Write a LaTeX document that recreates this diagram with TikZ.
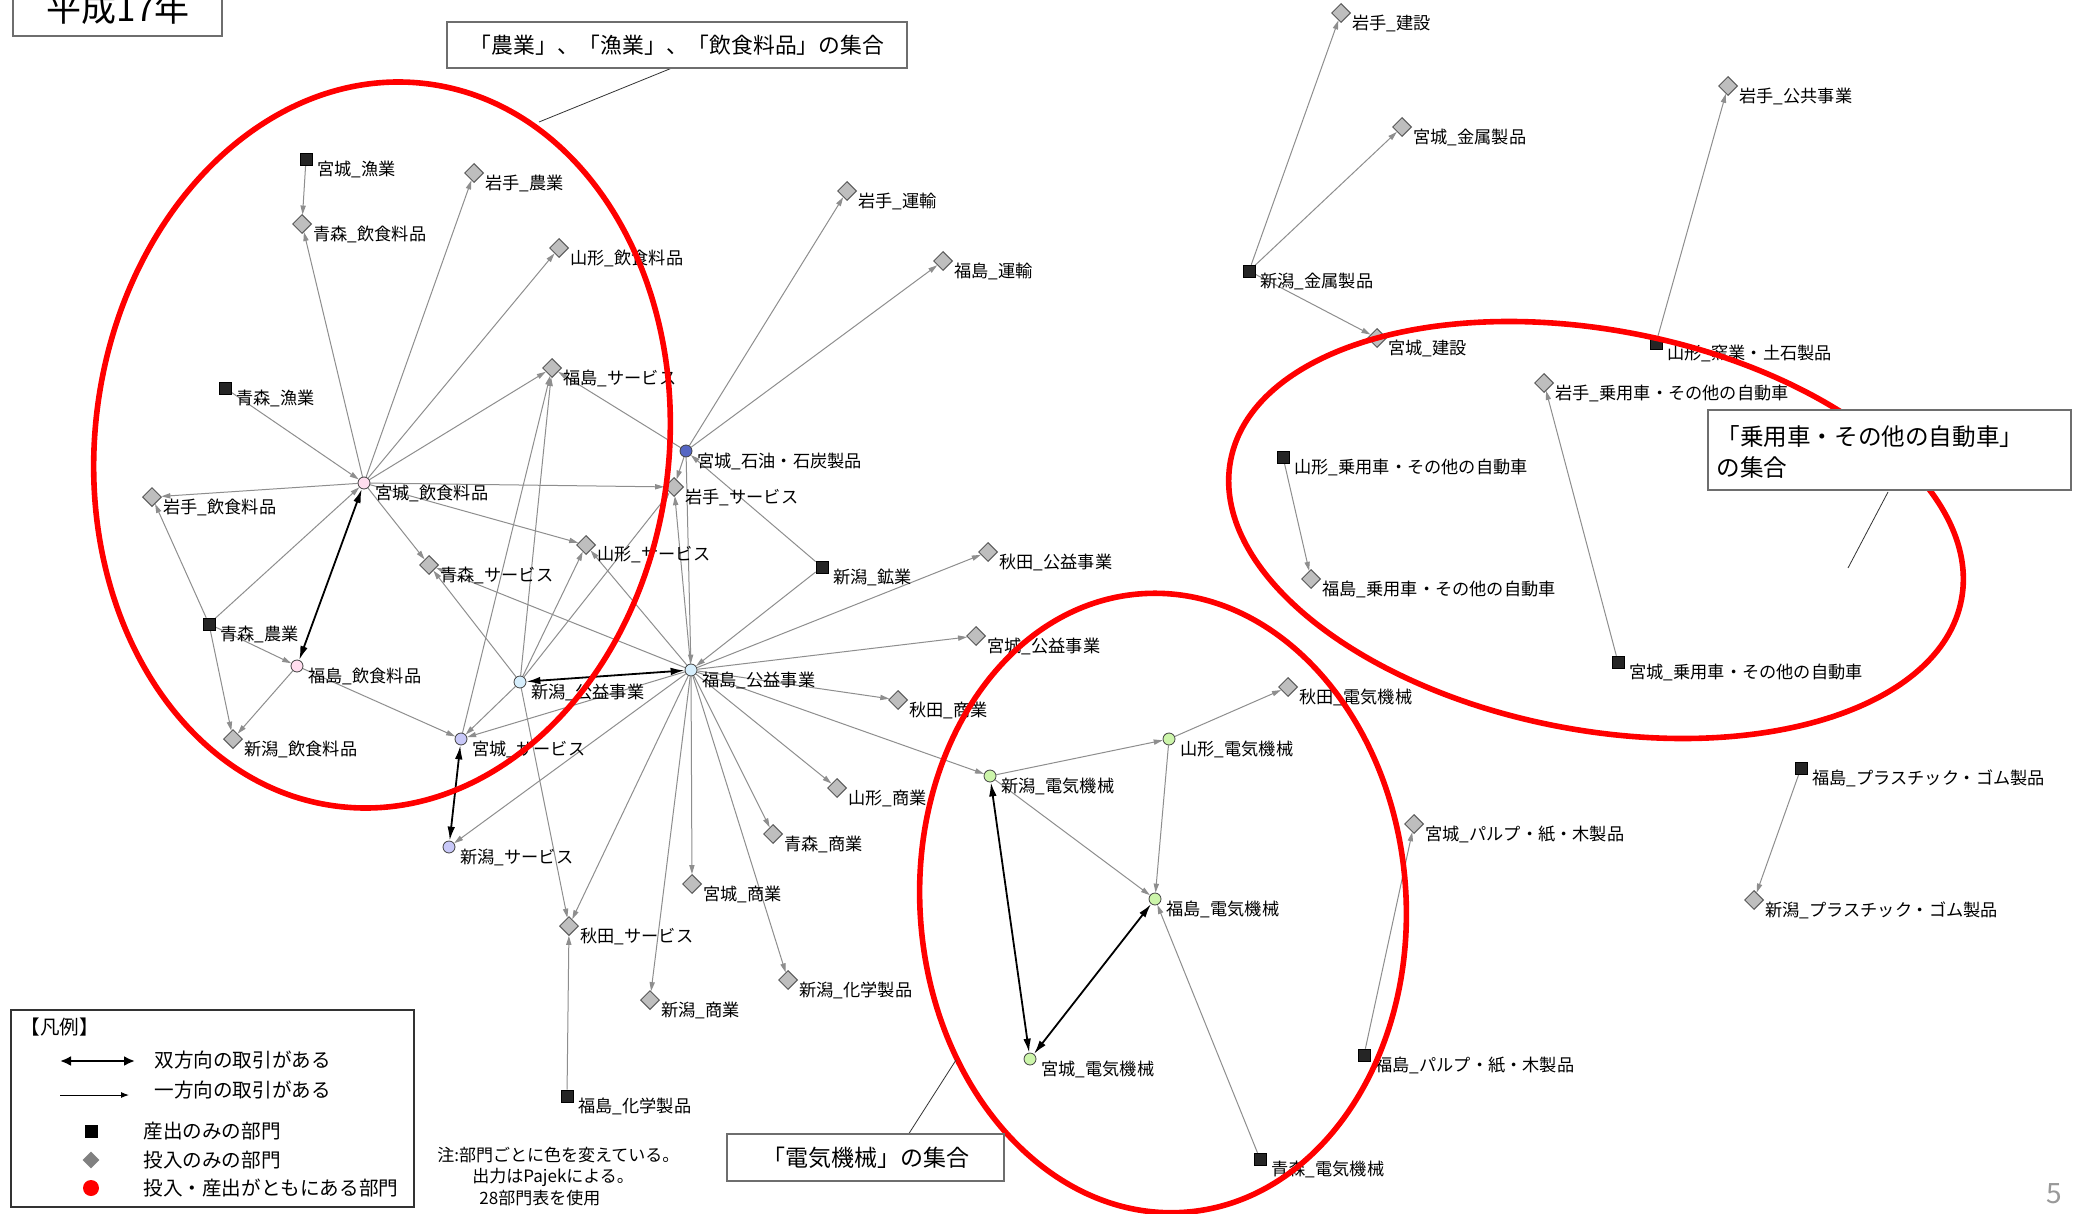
\documentclass[tikz,border=0pt]{standalone}
\usepackage{fontspec}
\setmainfont{Noto Sans CJK JP}
\usetikzlibrary{arrows.meta,shapes.geometric}
\pgfdeclarelayer{edgelayer}
\pgfsetlayers{edgelayer,main}

\definecolor{egray}{HTML}{8E8E8E}
\definecolor{dfill}{HTML}{BEBEBE}
\definecolor{ddraw}{HTML}{5A5A5A}
\definecolor{sqfill}{HTML}{252525}
\definecolor{cpinkc}{HTML}{FFDDEE}
\definecolor{clavc}{HTML}{C8C8F8}
\definecolor{cltbc}{HTML}{D6EEFC}
\definecolor{cbluec}{HTML}{5566C4}
\definecolor{cgreenc}{HTML}{CCF5AA}
\definecolor{boxline}{HTML}{6E6E6E}
\definecolor{ellred}{HTML}{FF0000}

\tikzset{
  sqn/.style={rectangle, minimum size=6pt, inner sep=0pt, fill=sqfill, draw=black, line width=0.3pt},
  din/.style={diamond, aspect=1, minimum size=9.5pt, inner sep=0pt, fill=dfill, draw=ddraw, line width=0.5pt},
  cin/.style={circle, minimum size=6pt, inner sep=0pt, draw=black!75, line width=0.4pt},
  cpink/.style={cin, fill=cpinkc},
  clav/.style={cin, fill=clavc},
  cltb/.style={cin, fill=cltbc},
  cblue/.style={cin, fill=cbluec},
  cgreen/.style={cin, fill=cgreenc},
  lbl/.style={anchor=west, inner sep=0pt, font=\fontsize{8.6}{9.5}\selectfont},
  gedge/.style={draw=egray, line width=0.5pt, -{Triangle[length=4.5pt,width=2.6pt]}},
  bedge/.style={draw=black, line width=0.9pt, {Latex[length=7pt,width=3.8pt]}-{Latex[length=7pt,width=3.8pt]}},
  grpell/.style={draw=ellred, line width=2.8pt},
  callbox/.style={draw=boxline, fill=white, line width=0.6pt, inner sep=0pt},
  leader/.style={draw=black!80, line width=0.4pt},
  legtxt/.style={anchor=west, inner sep=0pt, font=\fontsize{9.8}{11}\selectfont},
  notetxt/.style={anchor=west, inner sep=0pt, font=\fontsize{8.5}{10}\selectfont}
}

\newcommand{\pjn}[5]{%
  \node[#1] (#2) at (#3,#4) {};
  \node[lbl] (#2-t) at (#3+11,#4+10) {#5};
}

\begin{document}
\begin{tikzpicture}[x=0.5pt,y=-0.5pt]
\clip (0,0) rectangle (2076,1214);
\begin{pgfonlayer}{edgelayer}
\fill[white] (0,0) rectangle (2076,1214);
\end{pgfonlayer}

% ---- nodes ----
\pjn{sqn}{mgFish}{306}{159}{宮城\_漁業}
\pjn{din}{iwAgr}{474}{173}{岩手\_農業}
\pjn{din}{aoFood}{302}{224}{青森\_飲食料品}
\pjn{din}{yaFood}{559}{248}{山形\_飲食料品}
\pjn{din}{fkSrv}{552}{368}{福島\_サービス}
\pjn{sqn}{aoFish}{225}{388}{青森\_漁業}
\pjn{cpink}{mgFood}{364}{483}{宮城\_飲食料品}
\pjn{din}{iwFood}{152}{497}{岩手\_飲食料品}
\pjn{sqn}{aoAgr}{209}{624}{青森\_農業}
\pjn{cpink}{fkFood}{297}{666}{福島\_飲食料品}
\pjn{din}{ngFood}{233}{739}{新潟\_飲食料品}
\pjn{clav}{mgSrv}{461}{739}{宮城\_サービス}
\pjn{clav}{ngSrv}{449}{847}{新潟\_サービス}
\pjn{din}{aoSrv}{429}{565}{青森\_サービス}
\pjn{din}{yaSrv}{586}{545}{山形\_サービス}
\pjn{cltb}{ngUtil}{520}{682}{新潟\_公益事業}
\pjn{cltb}{fkUtil}{691}{670}{福島\_公益事業}
\pjn{cblue}{mgOil}{686}{451}{宮城\_石油・石炭製品}
\pjn{din}{iwSrv}{674}{487}{岩手\_サービス}
\pjn{din}{iwTr}{847}{191}{岩手\_運輸}
\pjn{din}{fkTr}{943}{261}{福島\_運輸}
\pjn{sqn}{ngMin}{822}{567}{新潟\_鉱業}
\pjn{din}{akUtil}{988}{552}{秋田\_公益事業}
\pjn{din}{mgUtil}{976}{636}{宮城\_公益事業}
\pjn{din}{akCom}{898}{700}{秋田\_商業}
\pjn{din}{yaCom}{837}{788}{山形\_商業}
\pjn{din}{aoCom}{773}{834}{青森\_商業}
\pjn{din}{mgCom}{692}{884}{宮城\_商業}
\pjn{din}{akSrv}{569}{926}{秋田\_サービス}
\pjn{din}{ngChem}{788}{980}{新潟\_化学製品}
\pjn{din}{ngCom}{650}{1000}{新潟\_商業}
\pjn{sqn}{fkChem}{567}{1096}{福島\_化学製品}
\pjn{cgreen}{ngEl}{990}{776}{新潟\_電気機械}
\pjn{cgreen}{yaEl}{1169}{739}{山形\_電気機械}
\pjn{din}{akEl}{1288}{687}{秋田\_電気機械}
\pjn{cgreen}{fkEl}{1155}{899}{福島\_電気機械}
\pjn{cgreen}{mgEl}{1030}{1059}{宮城\_電気機械}
\pjn{sqn}{aoEl}{1260}{1159}{青森\_電気機械}
\pjn{din}{mgPulp}{1414}{824}{宮城\_パルプ・紙・木製品}
\pjn{sqn}{fkPulp}{1364}{1055}{福島\_パルプ・紙・木製品}
\pjn{din}{iwCon}{1341}{13}{岩手\_建設}
\pjn{din}{mgMet}{1402}{127}{宮城\_金属製品}
\pjn{sqn}{ngMet}{1249}{271}{新潟\_金属製品}
\pjn{din}{mgCon}{1377}{338}{宮城\_建設}
\pjn{din}{iwPub}{1728}{86}{岩手\_公共事業}
\pjn{sqn}{yaCer}{1656}{343}{山形\_窯業・土石製品}
\pjn{din}{iwCar}{1544}{383}{岩手\_乗用車・その他の自動車}
\pjn{sqn}{yaCar}{1283}{457}{山形\_乗用車・その他の自動車}
\pjn{din}{fkCar}{1311}{579}{福島\_乗用車・その他の自動車}
\pjn{sqn}{mgCar}{1618}{662}{宮城\_乗用車・その他の自動車}
\pjn{sqn}{fkPl}{1801}{768}{福島\_プラスチック・ゴム製品}
\pjn{din}{ngPl}{1754}{900}{新潟\_プラスチック・ゴム製品}

% ---- edges ----
\begin{pgfonlayer}{edgelayer}
\foreach \a/\b in {mgFish/aoFood, mgFood/aoFood, mgFood/iwAgr, mgFood/yaFood, mgFood/fkSrv,
  aoFish/mgFood, mgFood/iwFood, aoAgr/iwFood, aoAgr/mgFood, aoAgr/fkFood, aoAgr/ngFood,
  fkFood/ngFood, fkFood/mgSrv, mgFood/iwSrv, mgFood/yaSrv, mgFood/aoSrv, mgSrv/fkSrv,
  ngUtil/fkSrv, ngUtil/yaSrv, ngUtil/iwSrv, ngUtil/aoSrv, ngUtil/mgSrv, ngUtil/akSrv,
  fkUtil/aoSrv, fkUtil/yaSrv, mgOil/iwSrv, mgOil/fkUtil, fkUtil/iwSrv, mgOil/fkSrv,
  mgOil/iwTr, mgOil/fkTr, ngMin/mgOil, ngMin/fkUtil, fkUtil/akUtil, fkUtil/mgUtil,
  fkUtil/akCom, fkUtil/yaCom, fkUtil/aoCom, fkUtil/mgCom, fkUtil/ngChem, fkUtil/ngCom,
  fkUtil/akSrv, fkUtil/ngEl, fkUtil/mgSrv, fkUtil/ngSrv, fkChem/akSrv,
  ngEl/yaEl, yaEl/akEl, yaEl/fkEl, ngEl/fkEl, aoEl/fkEl, fkPulp/mgPulp,
  ngMet/iwCon, ngMet/mgMet, ngMet/mgCon, yaCer/iwPub, mgCar/iwCar, yaCar/fkCar, fkPl/ngPl}
  \draw[gedge] (\a) -- (\b);
\foreach \a/\b in {mgFood/fkFood, mgSrv/ngSrv, ngUtil/fkUtil, ngEl/mgEl, mgEl/fkEl}
  \draw[bedge] (\a) -- (\b);
\end{pgfonlayer}

% ---- red group ellipses ----
\draw[grpell, rotate around={-7:(382,445)}] (382,445) ellipse [x radius=287, y radius=364];
\draw[grpell, rotate around={-10.8:(1596,530)}] (1596,530) ellipse [x radius=372, y radius=200];
\draw[grpell, rotate around={4:(1163,903)}] (1163,903) ellipse [x radius=243, y radius=310];

% ---- title box ----
\node[callbox, minimum width=104.5pt, minimum height=23pt] (ttl) at (117.5,13) {};
\node[inner sep=0pt, font=\fontsize{17.5}{20}\selectfont] (ttl-t) at (118,8) {平成17年};

% ---- callouts ----
\coordinate (ld1a) at (672,68);
\coordinate (ld1b) at (539,122);
\draw[leader] (ld1a) -- (ld1b);
\node[callbox, minimum width=230pt, minimum height=23pt] (cb1) at (677,45) {};
\node[inner sep=0pt, font=\fontsize{10.9}{13}\selectfont] (cb1-t) at (677,45) {「農業」、「漁業」、「飲食料品」の集合};

\coordinate (ld2a) at (1888,492);
\coordinate (ld2b) at (1848,568);
\draw[leader] (ld2a) -- (ld2b);
\node[callbox, minimum width=181.5pt, minimum height=40pt] (cb2) at (1889.5,450) {};
\node[anchor=west, align=left, inner sep=0pt, font=\fontsize{11.8}{15.5}\selectfont] (cb2-t) at (1716,452) {「乗用車・その他の自動車」\\の集合};

\coordinate (ld3a) at (908,1135);
\coordinate (ld3b) at (956,1060);
\draw[leader] (ld3a) -- (ld3b);
\node[callbox, minimum width=138.5pt, minimum height=23.5pt] (cb3) at (865.5,1157.5) {};
\node[inner sep=0pt, font=\fontsize{11.5}{13}\selectfont] (cb3-t) at (865.5,1158) {「電気機械」の集合};

% ---- legend ----
\node[draw=black!80, line width=0.6pt, fill=white, minimum width=201.5pt, minimum height=98.5pt, inner sep=0pt] (leg) at (212.5,1108.5) {};
\node[legtxt] (leg-h) at (20,1027) {【凡例】};
\coordinate (la1) at (60,1061);
\coordinate (la2) at (135,1061);
\draw[black, line width=1.3pt, {Latex[length=5.5pt,width=5pt]}-{Latex[length=5.5pt,width=5pt]}] (la1) -- (la2);
\node[legtxt] (leg-1) at (154,1060) {双方向の取引がある};
\coordinate (lb1) at (60,1095);
\coordinate (lb2) at (129,1095);
\draw[black, line width=0.5pt, -{Latex[length=4pt,width=3pt]}] (lb1) -- (lb2);
\node[legtxt] (leg-2) at (154,1090) {一方向の取引がある};
\node[rectangle, minimum size=6.5pt, inner sep=0pt, fill=black] (leg-sq) at (91,1131) {};
\node[legtxt] (leg-3) at (143,1131) {産出のみの部門};
\node[diamond, aspect=1, minimum size=8.5pt, inner sep=0pt, fill=black!50] (leg-di) at (91,1160) {};
\node[legtxt] (leg-4) at (143,1160) {投入のみの部門};
\node[circle, minimum size=8pt, inner sep=0pt, fill=ellred] (leg-ci) at (91,1188) {};
\node[legtxt] (leg-5) at (143,1188) {投入・産出がともにある部門};

% ---- note ----
\node[notetxt] (nt1) at (437,1155) {注:部門ごとに色を変えている。};
\node[notetxt] (nt2) at (472,1177) {出力はPajekによる。};
\node[notetxt] (nt3) at (479,1198) {28部門表を使用};

% ---- page number ----
\node[inner sep=0pt, text=black!40, font=\fontsize{14}{16}\selectfont] (pg) at (2054,1194) {5};
\end{tikzpicture}
\end{document}
